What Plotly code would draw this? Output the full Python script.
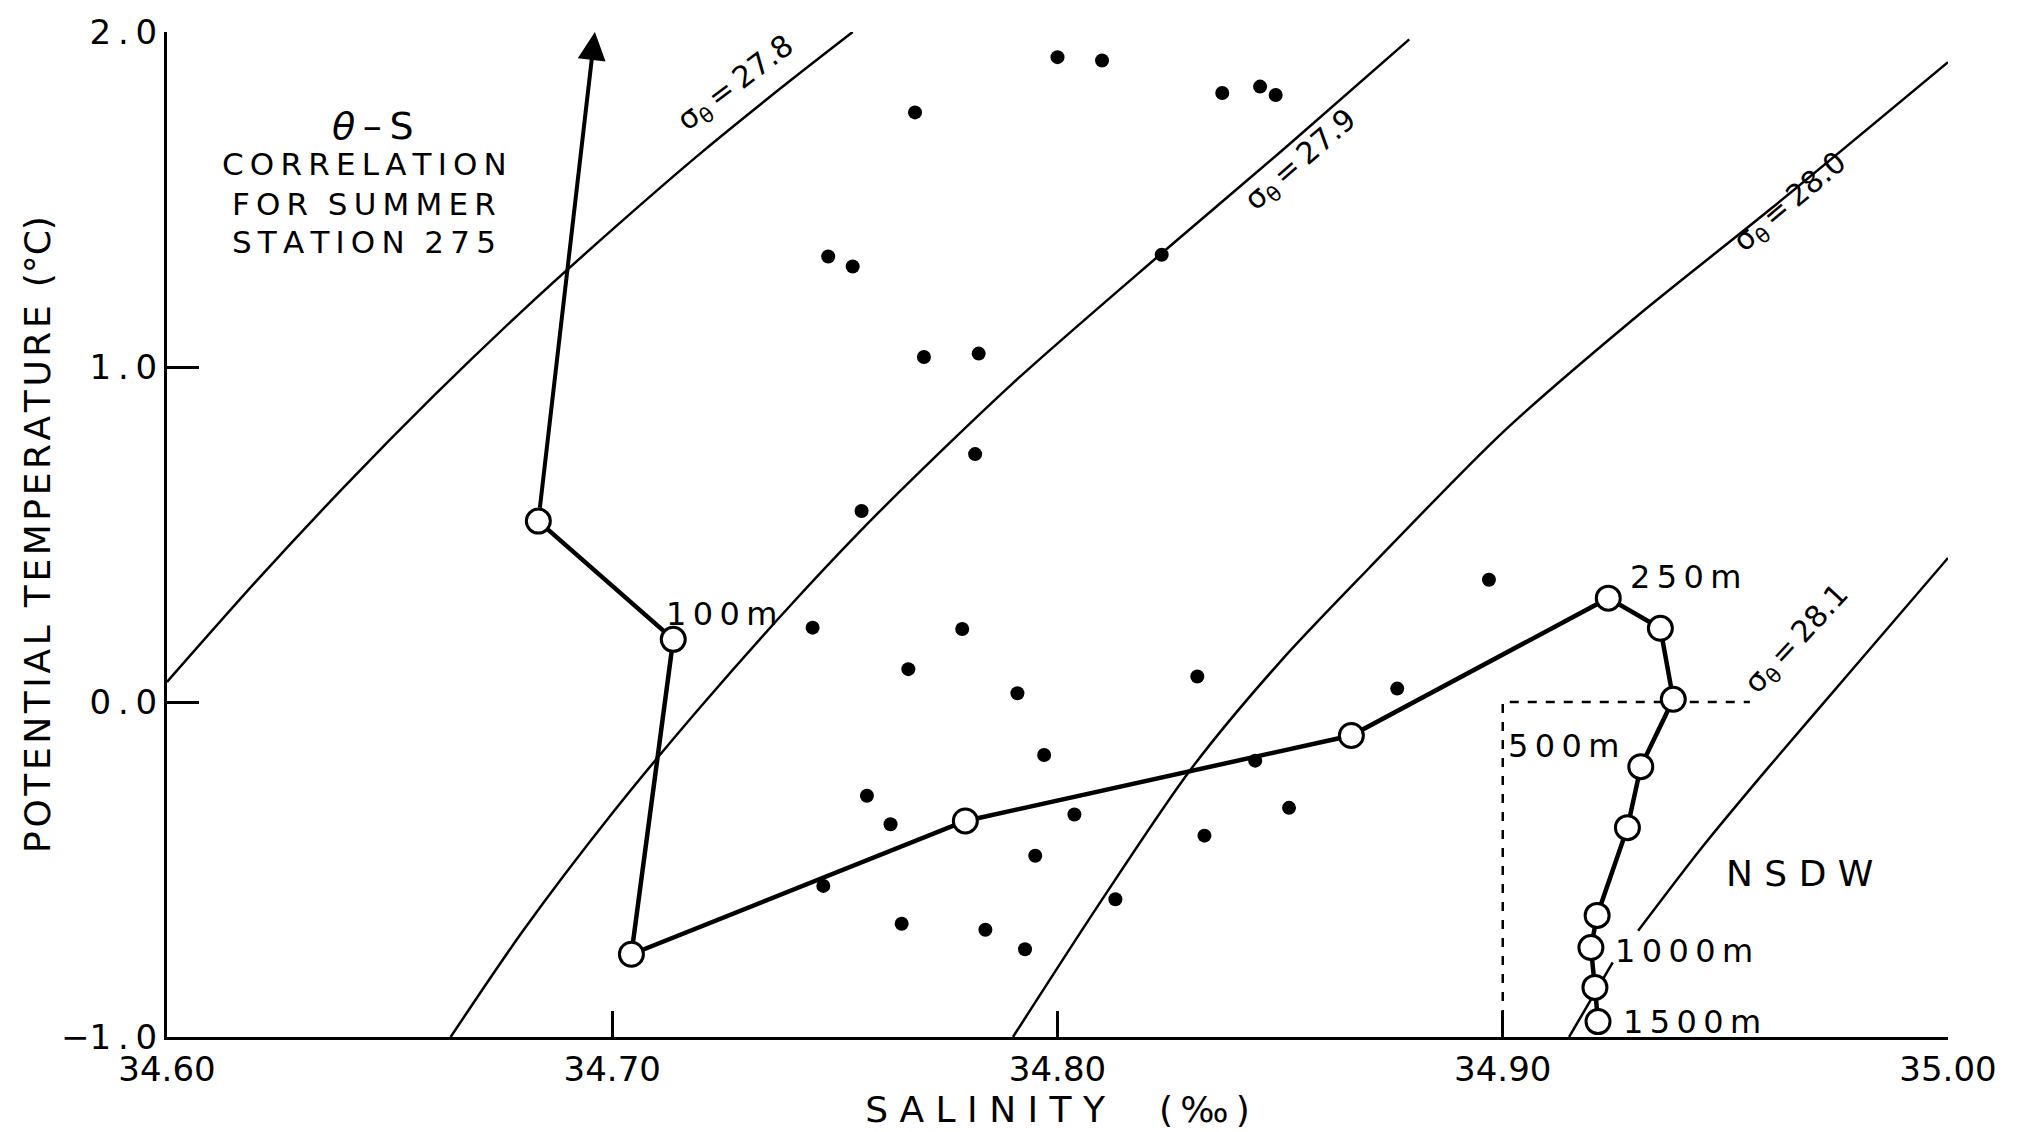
import plotly.graph_objects as go

# ---- data ----
# theta-S profile (open circles), station 275
profile_S = [34.6834, 34.7137, 34.7043, 34.7793, 34.8660, 34.9237, 34.9354, 34.9383,
             34.9310, 34.9280, 34.9212, 34.9198, 34.9207, 34.9214]
profile_T = [0.54, 0.187, -0.753, -0.355, -0.100, 0.310, 0.220, 0.008,
             -0.193, -0.375, -0.637, -0.733, -0.852, -0.954]
arrow_tip_S = 34.6961
arrow_tip_T = 2.0

# scattered observations (black dots)
dots_S = [34.800, 34.810, 34.768, 34.837, 34.8455, 34.849,
          34.7485, 34.754, 34.8234, 34.770, 34.7823, 34.7815,
          34.756, 34.745, 34.7786, 34.7665, 34.791, 34.8314,
          34.8763, 34.8969, 34.797, 34.8444, 34.7572, 34.7625,
          34.8038, 34.852, 34.833, 34.795, 34.7474, 34.813,
          34.765, 34.7838, 34.7927]
dots_T = [1.925, 1.915, 1.760, 1.818, 1.837, 1.812,
          1.330, 1.300, 1.335, 1.030, 1.040, 0.740,
          0.570, 0.222, 0.218, 0.098, 0.026, 0.076,
          0.040, 0.365, -0.158, -0.175, -0.280, -0.365,
          -0.336, -0.316, -0.399, -0.459, -0.549, -0.589,
          -0.662, -0.680, -0.738]

# isopycnals (sigma-theta), points
sig278_S = [34.600, 34.620, 34.640, 34.660, 34.680, 34.700, 34.720, 34.740, 34.754]
sig278_T = [0.06, 0.36, 0.645, 0.915, 1.17, 1.41, 1.64, 1.855, 2.00]
sig279_S = [34.6637, 34.680, 34.700, 34.720, 34.740, 34.760, 34.790, 34.823, 34.852, 34.879]
sig279_T = [-1.00, -0.682, -0.332, -0.012, 0.288, 0.568, 0.952, 1.335, 1.664, 1.978]
sig280_S = [34.790, 34.810, 34.830, 34.850, 34.870, 34.900, 34.930, 34.960, 35.000]
sig280_T = [-1.00, -0.59, -0.20, 0.12, 0.40, 0.805, 1.15, 1.47, 1.91]
sig281_S = [34.9149, 34.9247, None, 34.9304, 34.945, 34.960, 34.980, 35.000]
sig281_T = [-1.00, -0.777, None, -0.683, -0.43, -0.19, 0.12, 0.43]

# NSDW box
box_S = [34.90, 34.90, 34.9555]
box_T = [-1.0, 0.0, 0.0]

x_ticks = [34.60, 34.70, 34.80, 34.90, 35.00]
x_ticklabels = ["34.60", "34.70", "34.80", "34.90", "35.00"]
y_ticks = [-1.0, 0.0, 1.0, 2.0]
y_ticklabels = ["\u22121\u2009.\u20090", "0\u2009.\u20090", "1\u2009.\u20090", "2\u2009.\u20090"]

FONT = "DejaVu Sans"
TS = "\u2009"  # thin space used for the wide lettering
HS = "\u200a"  # hair space


def spaced(s, sep=TS):
    return sep.join(list(s))


fig = go.Figure()

for s, t in [(sig278_S, sig278_T), (sig279_S, sig279_T), (sig280_S, sig280_T), (sig281_S, sig281_T)]:
    fig.add_trace(go.Scatter(x=s, y=t, mode="lines",
                             line=dict(color="black", width=2.5, shape="spline", smoothing=0.8),
                             connectgaps=False, hoverinfo="skip", showlegend=False))

fig.add_trace(go.Scatter(x=box_S, y=box_T, mode="lines",
                         line=dict(color="black", width=2.5, dash="dash"), showlegend=False))

fig.add_trace(go.Scatter(x=dots_S, y=dots_T, mode="markers",
                         marker=dict(color="black", size=14), showlegend=False))

fig.add_trace(go.Scatter(x=profile_S, y=profile_T, mode="lines+markers",
                         line=dict(color="black", width=4.5),
                         marker=dict(symbol="circle", size=24, color="white",
                                     line=dict(color="black", width=3)),
                         cliponaxis=False, showlegend=False))

annotations = []
annotations.append(dict(x=arrow_tip_S, y=arrow_tip_T, ax=profile_S[0], ay=profile_T[0],
                        xref="x", yref="y", axref="x", ayref="y", text="",
                        showarrow=True, arrowhead=2, arrowsize=1.4, arrowwidth=4,
                        arrowcolor="black", standoff=0, startstandoff=12))


def txt(x, y, s, size, angle=0):
    annotations.append(dict(x=x, y=y, xref="x", yref="y", text=s, showarrow=False,
                            textangle=angle, font=dict(family=FONT, size=size, color="black")))


txt(34.6463, 1.72, "<i>\u03b8</i>" + TS + "\u2013" + TS + "S", 38)
txt(34.6443, 1.605, spaced("CORRELATION"), 31)
txt(34.6443, 1.488, spaced("FOR") + "  " + spaced("SUMMER"), 31)
txt(34.6443, 1.372, spaced("STATION") + "  " + spaced("275"), 31)

txt(34.7245, 0.262, spaced("100m"), 32)
txt(34.9410, 0.372, spaced("250m"), 32)
txt(34.9137, -0.13, spaced("500m"), 32)
txt(34.9407, -0.743, spaced("1000m"), 32)
txt(34.9424, -0.954, spaced("1500m"), 32)
txt(34.9667, -0.513, "N S D W", 36)

txt(34.7279, 1.847, "\u03c3<sub>\u03b8</sub>" + TS + "=" + TS + "27.8", 30, angle=-37)
txt(34.8547, 1.617, "\u03c3<sub>\u03b8</sub>" + TS + "=" + TS + "27.9", 30, angle=-41)
txt(34.9647, 1.49, "\u03c3<sub>\u03b8</sub>" + TS + "=" + TS + "28.0", 30, angle=-40)
txt(34.9661, 0.188, "\u03c3<sub>\u03b8</sub>" + TS + "=" + TS + "28.1", 30, angle=-47)

fig.update_layout(
    width=2020, height=1132,
    margin=dict(l=167, r=72, t=28, b=95),
    paper_bgcolor="white", plot_bgcolor="white",
    font=dict(family=FONT, color="black"),
    annotations=annotations,
    showlegend=False,
)
fig.update_xaxes(range=[34.60, 35.00], tickvals=x_ticks, ticktext=x_ticklabels,
                 ticks="inside", ticklen=26, tickwidth=3, tickcolor="black",
                 showline=True, linewidth=3, linecolor="black", mirror=False,
                 showgrid=False, zeroline=False,
                 tickfont=dict(family=FONT, size=34),
                 title=dict(text="S A L I N I T Y" + "\u2003\u2002" + "(" + TS + "\u2030" + TS + ")",
                            font=dict(family=FONT, size=36), standoff=4))
fig.update_yaxes(range=[-1.0, 2.0], tickvals=y_ticks, ticktext=y_ticklabels,
                 ticks="inside", ticklen=32, tickwidth=3, tickcolor="black",
                 showline=True, linewidth=3, linecolor="black", mirror=False,
                 showgrid=False, zeroline=False,
                 tickfont=dict(family=FONT, size=34),
                 title=dict(text=spaced("POTENTIAL", HS) + "\u2002" + spaced("TEMPERATURE", HS) + "\u2002" + "(°C)",
                            font=dict(family=FONT, size=36), standoff=0))

fig.write_html("out.html")
